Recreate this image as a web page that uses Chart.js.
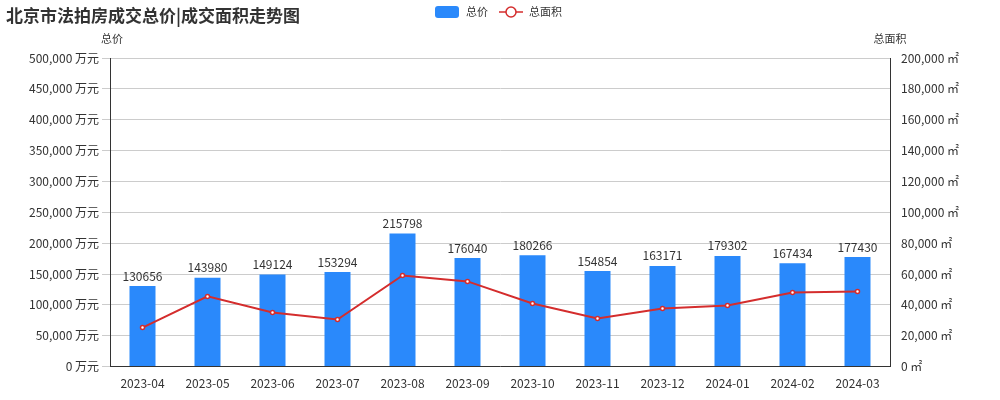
<!DOCTYPE html>
<html><head><meta charset="utf-8">
<script src="https://cdn.jsdelivr.net/npm/chart.js@4"></script>
<style>body{margin:0;background:#fff}#w{position:relative;width:1000px;height:400px}
#t{position:absolute;left:6px;top:2px;font:bold 17px "Noto Sans CJK SC";color:#333}</style>
</head><body><div id="w"><div id="t">北京市法拍房成交总价|成交面积走势图</div><canvas id="c" width="1000" height="400"></canvas></div>
<script>
const categories=["2023-04","2023-05","2023-06","2023-07","2023-08","2023-09","2023-10","2023-11","2023-12","2024-01","2024-02","2024-03"];
const totalPrice=[130656,143980,149124,153294,215798,176040,180266,154854,163171,179302,167434,177430];
const totalArea=[25300,45500,35000,30500,59100,55200,40900,31200,37700,39600,48000,48700];
const F='"Noto Sans CJK SC"';
const labelPlugin={id:'lbl',afterDatasetsDraw(ch){const x=ch.ctx;const m=ch.getDatasetMeta(1);x.save();x.font='12px '+F;x.fillStyle='#333';x.textAlign='center';x.textBaseline='bottom';
m.data.forEach((b,i)=>x.fillText(totalPrice[i],b.x,b.y-4));
x.font='11px '+F;x.fillText('总价',112,44);x.fillText('总面积',890,44);
x.fillStyle='#2a89fb';x.beginPath();x.roundRect(435,6,24,12,3);x.fill();
x.fillStyle='#333';x.textAlign='left';x.textBaseline='middle';x.fillText(ch.data.datasets[1].label,466,12);
x.strokeStyle='#d42d2d';x.lineWidth=1.5;x.beginPath();x.moveTo(499,12);x.lineTo(523,12);x.stroke();
x.fillStyle='#fff';x.beginPath();x.arc(511,12,5,0,7);x.fill();x.stroke();
x.fillStyle='#333';x.fillText(ch.data.datasets[0].label,529,12);
x.restore();}};
new Chart(document.getElementById('c'),{data:{labels:categories,datasets:[
{type:'line',label:'总面积',data:totalArea,yAxisID:'y1',borderColor:'#d42d2d',backgroundColor:'#fff',borderWidth:2,pointRadius:2,pointBorderWidth:1.5,pointBorderColor:'#d42d2d',order:0},
{type:'bar',label:'总价',data:totalPrice,yAxisID:'y',backgroundColor:'#2a89fb',barPercentage:0.4,categoryPercentage:1,order:1}]},
options:{responsive:false,animation:false,layout:{padding:{left:5,right:10,top:58,bottom:7}},
plugins:{legend:{display:false},tooltip:{enabled:false}},
scales:{x:{grid:{display:false},ticks:{font:{family:F,size:12},color:'#333',padding:2},border:{color:'#333'}},
y:{position:'left',min:0,max:500000,afterFit(s){s.width=105},ticks:{stepSize:50000,font:{family:F,size:12},color:'#333',callback:v=>v.toLocaleString('en-US')+' 万元'},grid:{color:'#ccc'},border:{display:true,color:'#333'}},
y1:{position:'right',min:0,max:200000,afterFit(s){s.width=100},ticks:{stepSize:20000,font:{family:F,size:12},color:'#333',callback:v=>v.toLocaleString('en-US')+' ㎡'},grid:{display:false},border:{color:'#333'}}}},
plugins:[labelPlugin]});
</script></body></html>
